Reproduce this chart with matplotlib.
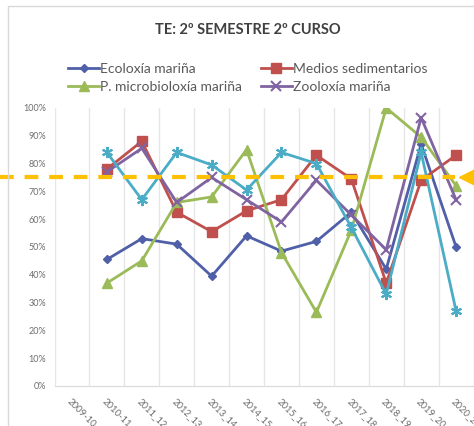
import numpy as np
import matplotlib
matplotlib.use("Agg")
import matplotlib.pyplot as plt
from matplotlib.patches import Rectangle

plt.rcParams['font.family'] = ['Lato', 'DejaVu Sans']

cursos = ["2009-10", "2010-11", "2011_12", "2012_13", "2013_14", "2014_15",
          "2015_16", "2016_17", "2017_18", "2018_19", "2019_20", "2020_21"]

# percentages, first course has no data
ecoloxia = [np.nan, 45.5, 53, 51, 39.5, 54, 48.5, 52, 62.5, 42, 87, 50]
medios = [np.nan, 78, 88, 62.5, 55.5, 63, 67, 83, 74.5, 37, 74, 83]
microbio = [np.nan, 37, 45, 66, 68, 85, 48, 26.5, 56, 100, 89.5, 72]
zooloxia = [np.nan, 77, 85.5, 66, 75, 67, 59, 74, 61.5, 49, 96.5, 67]
outra = [np.nan, 84, 67, 84, 79.5, 70.5, 84, 80, 57, 33, 84, 27]
meta = 75

fig = plt.figure(figsize=(4.74, 4.26), dpi=100)
ax = fig.add_axes([0.115, 0.094, 0.884, 0.6526])

# chart border (partly cut off)
fig.patches.append(Rectangle((8/474, -0.1), 1.2, 1.1 - 6/426, transform=fig.transFigure,
                             fill=False, edgecolor='#D9D9D9', lw=1.0))

x = np.arange(len(cursos))
l1, = ax.plot(x, ecoloxia, color='#5060A8', lw=2, marker='D', ms=4.5, label='Ecoloxía mariña')
l2, = ax.plot(x, medios, color='#C0504D', lw=2, marker='s', ms=7, label='Medios sedimentarios')
l3, = ax.plot(x, microbio, color='#9BBB59', lw=2, marker='^', ms=7, label='P. microbioloxía mariña')
l4, = ax.plot(x, zooloxia, color='#8064A2', lw=2, marker='x', ms=7, mew=1.5, label='Zooloxía mariña')
ax.plot(x, outra, color='#4BACC6', lw=2, marker=(6, 2, 0), ms=8, mew=1.5)

# target line drawn over the chart
trans = ax.get_yaxis_transform()
ax.plot([-0.13, 0.956], [meta, meta], transform=trans, color='#FFC000', lw=3,
        dashes=(3.3, 2.6), clip_on=False, zorder=5)
ax.plot([0.985], [meta], transform=trans, color='#FFC000', marker='<', ms=12,
        clip_on=False, zorder=5)

ax.set_xlim(-0.5, 11.5)
ax.set_ylim(0, 100)
ax.set_yticks(np.arange(0, 101, 10))
ax.set_yticklabels([f"{v}%" for v in range(0, 101, 10)])
ax.set_xticks(np.arange(-0.5, 11.6, 1))
ax.set_xticklabels([])
ax.grid(axis='x', color='#E6E6E6', lw=1)
ax.tick_params(axis='both', length=0, labelsize=6.5, labelcolor='#6E6E6E', pad=6)
for s in ['top', 'right', 'left']:
    ax.spines[s].set_visible(False)
ax.spines['bottom'].set_color('#D9D9D9')

for i, c in enumerate(cursos):
    ax.text(i, -4, c, rotation=-45, ha='left', va='top', fontsize=6.8,
            color='#6E6E6E', rotation_mode='anchor', clip_on=False)

fig.text(0.522, 1 - 30/426, "TE: 2º SEMESTRE 2º CURSO", ha='center', va='center',
         fontsize=10.5, fontweight='bold', color='#404040')

# row order: Ecoloxía, Medios / P. microbioloxía, Zooloxía
fig.legend([l1, l3, l2, l4], [l.get_label() for l in [l1, l3, l2, l4]],
           loc='center', bbox_to_anchor=(0.523, 1 - 78/426), ncol=2, frameon=False,
           fontsize=10, labelcolor='#595959', handlelength=2.2, handletextpad=0.1,
           columnspacing=1.35, labelspacing=0.45)

fig.savefig("out.png", dpi=100)
